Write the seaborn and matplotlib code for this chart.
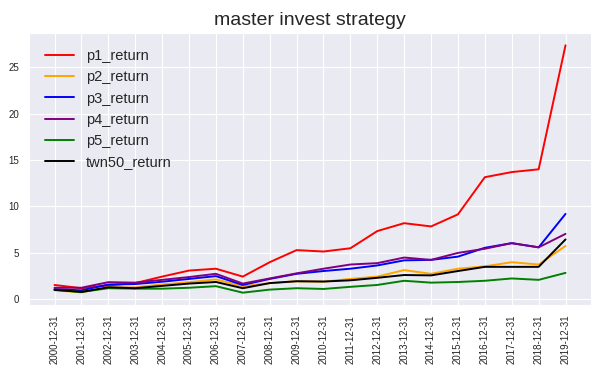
import pandas as pd
import matplotlib
matplotlib.use('Agg')
import matplotlib.pyplot as plt
import seaborn as sns

# data
dates = [f'{y}-12-31' for y in range(2000, 2020)]
p1_return = [1.55, 1.2, 1.5, 1.75, 2.45, 3.1, 3.3, 2.45, 4.0, 5.3, 5.15, 5.5, 7.35, 8.2, 7.85, 9.15, 13.15, 13.7, 14.0, 27.35]
p2_return = [0.97, 0.75, 1.3, 1.3, 1.6, 1.85, 2.15, 1.4, 1.75, 1.95, 1.9, 2.2, 2.45, 3.15, 2.75, 3.3, 3.55, 4.0, 3.75, 5.75]
p3_return = [1.1, 0.97, 1.6, 1.65, 1.9, 2.2, 2.5, 1.55, 2.2, 2.75, 3.05, 3.3, 3.65, 4.2, 4.25, 4.6, 5.55, 6.05, 5.6, 9.2]
p4_return = [1.25, 1.25, 1.85, 1.8, 2.1, 2.4, 2.75, 1.7, 2.25, 2.8, 3.3, 3.75, 3.9, 4.5, 4.25, 5.0, 5.45, 6.05, 5.6, 7.05]
p5_return = [1.02, 0.8, 1.2, 1.15, 1.15, 1.25, 1.42, 0.72, 1.05, 1.2, 1.12, 1.35, 1.55, 2.0, 1.8, 1.87, 2.0, 2.25, 2.1, 2.85]
twn50_return = [1.03, 0.8, 1.3, 1.2, 1.45, 1.7, 1.87, 1.2, 1.75, 1.95, 1.92, 2.05, 2.32, 2.62, 2.58, 3.05, 3.5, 3.5, 3.5, 6.45]

series = {
    'p1_return': p1_return,
    'p2_return': p2_return,
    'p3_return': p3_return,
    'p4_return': p4_return,
    'p5_return': p5_return,
    'twn50_return': twn50_return,
}
colors = ['red', 'orange', 'blue', 'purple', 'green', 'black']

rows = []
for name, vals in series.items():
    for d, v in zip(dates, vals):
        rows.append({'date': d, 'value': v, 'series': name})
df = pd.DataFrame(rows)

sns.set_style('darkgrid')
plt.rcParams['font.family'] = ['Liberation Sans', 'DejaVu Sans']

fig, ax = plt.subplots(figsize=(6.1, 3.78), dpi=100)
fig.subplots_adjust(left=0.0475, right=0.969, bottom=0.193, top=0.913)

sns.lineplot(data=df, x='date', y='value', hue='series', palette=colors,
             sort=False, linewidth=1.4, ax=ax)

ax.set_title('master invest strategy', fontsize=14)
ax.set_xlabel('')
ax.set_ylabel('')
ax.set_yticks([0, 5, 10, 15, 20, 25])
ax.tick_params(axis='x', labelrotation=90, labelsize=7, colors='#262626')
ax.tick_params(axis='y', labelsize=7, colors='#262626')

handles, labels = ax.get_legend_handles_labels()
ax.legend(handles, labels, loc='upper left', fontsize=10.5, frameon=False,
          labelspacing=0.5, borderaxespad=0.7)

plt.savefig('out.png')
plt.close()
